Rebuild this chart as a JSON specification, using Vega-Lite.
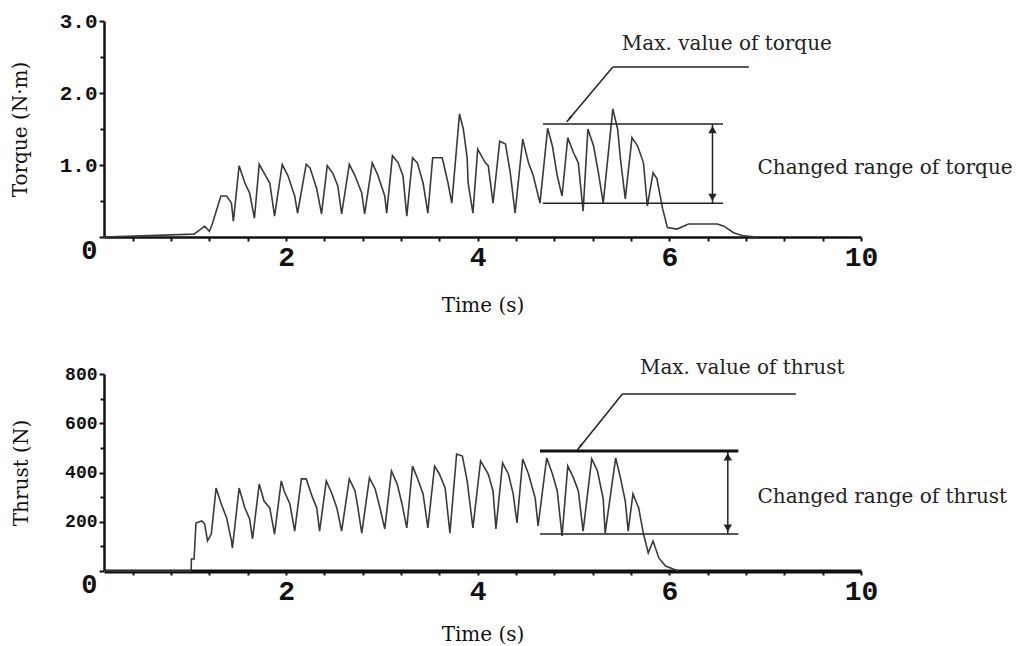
{
  "$schema": "https://vega.github.io/schema/vega-lite/v6.json",
  "background": "white",
  "padding": {"left": 10, "top": 10, "right": 4, "bottom": 5},
  "spacing": 137,
  "bounds": "flush",
  "config": {
    "view": {"stroke": null},
    "axis": {
      "grid": false,
      "domainColor": "#111",
      "tickColor": "#111",
      "labelColor": "#111",
      "titleColor": "#111",
      "titleFont": "DejaVu Serif",
      "titleFontWeight": "normal",
      "titleFontSize": 20,
      "labelFont": "Liberation Mono",
      "labelFontWeight": "bold",
      "labelOverlap": false,
      "labelFlush": false
    }
  },
  "datasets": {
    "torque": [
      {"t":0.1,"v":0},{"t":1.04,"v":0.04},{"t":1.15,"v":0.15},{"t":1.2,"v":0.08},{"t":1.23,"v":0.18},{"t":1.32,"v":0.57},{"t":1.38,"v":0.57},{"t":1.43,"v":0.47},{"t":1.45,"v":0.22},
      {"t":1.51,"v":0.99},{"t":1.57,"v":0.75},{"t":1.62,"v":0.61},{"t":1.67,"v":0.26},
      {"t":1.72,"v":1.01},{"t":1.77,"v":0.89},{"t":1.83,"v":0.75},{"t":1.88,"v":0.29},
      {"t":1.96,"v":1.01},{"t":2.02,"v":0.85},{"t":2.09,"v":0.57},{"t":2.12,"v":0.33},
      {"t":2.21,"v":1.01},{"t":2.25,"v":0.96},{"t":2.32,"v":0.67},{"t":2.37,"v":0.32},
      {"t":2.43,"v":0.99},{"t":2.49,"v":0.88},{"t":2.54,"v":0.71},{"t":2.58,"v":0.32},
      {"t":2.66,"v":1.01},{"t":2.72,"v":0.85},{"t":2.79,"v":0.61},{"t":2.82,"v":0.32},
      {"t":2.9,"v":1.03},{"t":2.96,"v":0.85},{"t":3.03,"v":0.57},{"t":3.05,"v":0.33},
      {"t":3.11,"v":1.13},{"t":3.17,"v":1.03},{"t":3.22,"v":0.85},{"t":3.26,"v":0.29},
      {"t":3.32,"v":1.1},{"t":3.37,"v":1.03},{"t":3.43,"v":0.75},{"t":3.48,"v":0.33},
      {"t":3.53,"v":1.1},{"t":3.63,"v":1.1},{"t":3.69,"v":0.75},{"t":3.73,"v":0.47},
      {"t":3.81,"v":1.71},{"t":3.85,"v":1.5},{"t":3.89,"v":1.1},{"t":3.9,"v":0.75},{"t":3.95,"v":0.33},
      {"t":4.0,"v":1.22},{"t":4.08,"v":1.03},{"t":4.11,"v":0.99},{"t":4.16,"v":0.47},
      {"t":4.23,"v":1.33},{"t":4.29,"v":1.29},{"t":4.34,"v":0.89},{"t":4.39,"v":0.33},
      {"t":4.47,"v":1.36},{"t":4.53,"v":1.03},{"t":4.58,"v":0.85},{"t":4.65,"v":0.47},
      {"t":4.73,"v":1.51},{"t":4.78,"v":1.26},{"t":4.83,"v":0.85},{"t":4.88,"v":0.57},
      {"t":4.94,"v":1.38},{"t":5.0,"v":1.17},{"t":5.05,"v":1.03},{"t":5.1,"v":0.36},
      {"t":5.15,"v":1.5},{"t":5.21,"v":1.26},{"t":5.26,"v":0.89},{"t":5.31,"v":0.47},
      {"t":5.41,"v":1.78},{"t":5.46,"v":1.5},{"t":5.49,"v":1.08},{"t":5.54,"v":0.53},
      {"t":5.61,"v":1.38},{"t":5.67,"v":1.26},{"t":5.73,"v":1.03},{"t":5.77,"v":0.43},
      {"t":5.83,"v":0.89},{"t":5.87,"v":0.81},{"t":5.93,"v":0.39},{"t":5.98,"v":0.13},
      {"t":6.08,"v":0.11},{"t":6.2,"v":0.18},{"t":6.36,"v":0.18},{"t":6.5,"v":0.18},{"t":6.57,"v":0.15},{"t":6.67,"v":0.06},{"t":6.76,"v":0.02},{"t":6.9,"v":0}
    ],
    "thrust": [
      {"t":0.1,"v":0},{"t":1.0,"v":0},{"t":1.01,"v":8},{"t":1.012,"v":49},{"t":1.04,"v":49},{"t":1.06,"v":195},{"t":1.12,"v":203},{"t":1.15,"v":191},{"t":1.18,"v":122},{"t":1.22,"v":150},
      {"t":1.27,"v":337},{"t":1.32,"v":276},{"t":1.38,"v":215},{"t":1.43,"v":122},{"t":1.44,"v":93},
      {"t":1.51,"v":337},{"t":1.57,"v":256},{"t":1.62,"v":211},{"t":1.65,"v":130},
      {"t":1.72,"v":353},{"t":1.77,"v":284},{"t":1.83,"v":256},{"t":1.88,"v":150},
      {"t":1.95,"v":366},{"t":1.98,"v":325},{"t":2.04,"v":272},{"t":2.09,"v":162},
      {"t":2.16,"v":374},{"t":2.21,"v":374},{"t":2.27,"v":305},{"t":2.32,"v":256},{"t":2.35,"v":162},
      {"t":2.42,"v":366},{"t":2.48,"v":313},{"t":2.53,"v":256},{"t":2.58,"v":162},
      {"t":2.66,"v":374},{"t":2.72,"v":325},{"t":2.75,"v":256},{"t":2.79,"v":154},
      {"t":2.87,"v":378},{"t":2.93,"v":333},{"t":2.98,"v":256},{"t":3.03,"v":171},
      {"t":3.1,"v":406},{"t":3.16,"v":353},{"t":3.21,"v":272},{"t":3.26,"v":175},
      {"t":3.32,"v":426},{"t":3.37,"v":378},{"t":3.43,"v":313},{"t":3.48,"v":175},
      {"t":3.55,"v":426},{"t":3.6,"v":394},{"t":3.66,"v":337},{"t":3.71,"v":154},
      {"t":3.78,"v":475},{"t":3.84,"v":467},{"t":3.89,"v":366},{"t":3.95,"v":175},
      {"t":4.03,"v":447},{"t":4.11,"v":394},{"t":4.16,"v":325},{"t":4.19,"v":171},
      {"t":4.26,"v":439},{"t":4.32,"v":394},{"t":4.37,"v":313},{"t":4.41,"v":195},
      {"t":4.47,"v":455},{"t":4.53,"v":394},{"t":4.6,"v":296},{"t":4.63,"v":183},
      {"t":4.72,"v":459},{"t":4.78,"v":394},{"t":4.83,"v":325},{"t":4.88,"v":142},
      {"t":4.94,"v":426},{"t":5.0,"v":378},{"t":5.05,"v":325},{"t":5.1,"v":162},
      {"t":5.19,"v":455},{"t":5.25,"v":406},{"t":5.31,"v":292},{"t":5.33,"v":154},
      {"t":5.44,"v":459},{"t":5.49,"v":378},{"t":5.54,"v":284},{"t":5.57,"v":162},
      {"t":5.62,"v":313},{"t":5.68,"v":256},{"t":5.73,"v":150},{"t":5.78,"v":73},
      {"t":5.83,"v":122},{"t":5.89,"v":53},{"t":5.96,"v":20},{"t":6.04,"v":8},{"t":6.1,"v":0}
    ],
    "torqueRules": [
      {"kind":"max","t":4.68,"t2":6.56,"v":1.57,"v2":1.57},
      {"kind":"min","t":4.68,"t2":6.56,"v":0.47,"v2":0.47},
      {"kind":"range","t":6.45,"t2":6.45,"v":1.57,"v2":0.47},
      {"kind":"leader","t":6.83,"t2":5.41,"v":2.36,"v2":2.36},
      {"kind":"leader","t":5.41,"t2":4.93,"v":2.36,"v2":1.6}
    ],
    "torqueHeads": [
      {"kind":"up","t":6.45,"v":1.49},
      {"kind":"down","t":6.45,"v":0.55}
    ],
    "torqueTip": [{"t":4.96,"v":1.65}],
    "torqueText": [
      {"kind":"max","t":6.6,"v":2.68,"label":"Max. value of torque"},
      {"kind":"range","t":6.92,"v":0.96,"label":"Changed range of torque"}
    ],
    "thrustRules": [
      {"kind":"max","t":4.65,"t2":6.72,"v":487,"v2":487},
      {"kind":"min","t":4.65,"t2":6.72,"v":150,"v2":150},
      {"kind":"range","t":6.61,"t2":6.61,"v":487,"v2":150},
      {"kind":"leader","t":7.32,"t2":5.51,"v":719,"v2":719},
      {"kind":"leader","t":5.51,"t2":5.04,"v":719,"v2":491}
    ],
    "thrustHeads": [
      {"kind":"up","t":6.61,"v":463},
      {"kind":"down","t":6.61,"v":174}
    ],
    "thrustTip": [{"t":5.07,"v":507}],
    "thrustText": [
      {"kind":"max","t":6.76,"v":824,"label":"Max. value of thrust"},
      {"kind":"range","t":6.92,"v":300,"label":"Changed range of thrust"}
    ]
  },
  "vconcat": [
    {
      "width": 757,
      "height": 216,
      "resolve": {"axis": {"x": "independent", "y": "independent"}},
      "layer": [
        {
          "data": {"name": "torque"},
          "mark": {"type": "line", "color": "#3a3a3a", "strokeWidth": 1.6},
          "encoding": {
            "x": {
              "field": "t", "type": "quantitative",
              "scale": {"domain": [0.1, 8], "nice": false, "zero": false},
              "axis": {
                "orient": "bottom",
                "title": "Time (s)",
                "values": [2, 4, 6, 8],
                "labelExpr": "datum.value == 8 ? '10' : datum.label",
                "labelFontSize": 28, "tickSize": 4, "tickWidth": 2, "labelPadding": 2,
                "domainWidth": 2.5, "titlePadding": 24
              }
            },
            "y": {
              "field": "v", "type": "quantitative",
              "scale": {"domain": [0, 3], "nice": false},
              "axis": {
                "orient": "left",
                "title": "Torque (N·m)",
                "values": [0, 1, 2, 3],
                "labelExpr": "datum.value == 0 ? '0' : format(datum.value, '.1f')",
                "labelFontSize": {"condition": {"test": "datum.value == 0", "value": 27}, "value": 21},
                "labelBaseline": {"condition": {"test": "datum.value == 0", "value": "top"}, "value": "middle"},
                "tickSize": 5, "tickWidth": 2, "labelPadding": 2, "domainWidth": 2.5, "titlePadding": 29
              }
            }
          }
        },
        {
          "data": {"name": "torqueRules"},
          "mark": {"type": "rule", "color": "#222", "strokeWidth": 1.5},
          "encoding": {
            "x": {"field": "t", "type": "quantitative",
              "axis": {"orient": "bottom", "title": null, "labels": false, "domain": false, "values": [0.4,0.8,1.2,1.6,2.4,2.8,3.2,3.6,4.4,4.8,5.2,5.6,6.4,6.8,7.2,7.6], "tickSize": 4, "tickWidth": 2}},
            "x2": {"field": "t2"},
            "y": {"field": "v", "type": "quantitative",
              "axis": {"orient": "left", "title": null, "labels": false, "domain": false, "values": [0.5, 1.5, 2.5], "tickSize": 4, "tickWidth": 2}},
            "y2": {"field": "v2"}
          }
        },
        {
          "data": {"name": "torqueHeads"},
          "mark": {"type": "point", "filled": true, "color": "#222", "size": 70, "opacity": 1},
          "encoding": {
            "x": {"field": "t", "type": "quantitative", "axis": null},
            "y": {"field": "v", "type": "quantitative", "axis": null},
            "shape": {"field": "kind", "type": "nominal", "scale": {"domain": ["up", "down"], "range": ["triangle-up", "triangle-down"]}, "legend": null}
          }
        },
        {
          "data": {"name": "torqueTip"},
          "mark": {"type": "point", "filled": true, "color": "#222", "size": 80, "shape": "wedge", "angle": 220, "opacity": 1},
          "encoding": {
            "x": {"field": "t", "type": "quantitative", "axis": null},
            "y": {"field": "v", "type": "quantitative", "axis": null}
          }
        },
        {
          "data": {"name": "torqueText"},
          "transform": [{"filter": "datum.kind == 'max'"}],
          "mark": {"type": "text", "font": "DejaVu Serif", "fontSize": 20, "color": "#222", "align": "center", "baseline": "middle"},
          "encoding": {
            "x": {"field": "t", "type": "quantitative", "axis": null},
            "y": {"field": "v", "type": "quantitative", "axis": null},
            "text": {"field": "label"}
          }
        },
        {
          "data": {"name": "torqueText"},
          "transform": [{"filter": "datum.kind == 'range'"}],
          "mark": {"type": "text", "font": "DejaVu Serif", "fontSize": 20, "color": "#222", "align": "left", "baseline": "middle"},
          "encoding": {
            "x": {"field": "t", "type": "quantitative", "axis": null},
            "y": {"field": "v", "type": "quantitative", "axis": null},
            "text": {"field": "label"}
          }
        }
      ]
    },
    {
      "width": 757,
      "height": 197,
      "resolve": {"axis": {"x": "independent", "y": "independent"}},
      "layer": [
        {
          "data": {"name": "thrust"},
          "mark": {"type": "line", "color": "#3a3a3a", "strokeWidth": 1.6},
          "encoding": {
            "x": {
              "field": "t", "type": "quantitative",
              "scale": {"domain": [0.1, 8], "nice": false, "zero": false},
              "axis": {
                "orient": "bottom",
                "title": "Time (s)",
                "values": [2, 4, 6, 8],
                "labelExpr": "datum.value == 8 ? '10' : datum.label",
                "labelFontSize": 28, "tickSize": 4, "tickWidth": 2, "labelPadding": 2,
                "domainWidth": 4, "titlePadding": 19
              }
            },
            "y": {
              "field": "v", "type": "quantitative",
              "scale": {"domain": [0, 800], "nice": false},
              "axis": {
                "orient": "left",
                "title": "Thrust (N)",
                "values": [0, 200, 400, 600, 800],
                "labelFontSize": {"condition": {"test": "datum.value == 0", "value": 27}, "value": 18},
                "labelBaseline": {"condition": {"test": "datum.value == 0", "value": "top"}, "value": "middle"},
                "tickSize": 5, "tickWidth": 2, "labelPadding": 2, "domainWidth": 2.5, "titlePadding": 33
              }
            }
          }
        },
        {
          "data": {"name": "thrustRules"},
          "transform": [{"filter": "datum.kind != 'max'"}],
          "mark": {"type": "rule", "color": "#222", "strokeWidth": 1.5},
          "encoding": {
            "x": {"field": "t", "type": "quantitative",
              "axis": {"orient": "bottom", "title": null, "labels": false, "domain": false, "values": [0.4,0.8,1.2,1.6,2.4,2.8,3.2,3.6,4.4,4.8,5.2,5.6,6.4,6.8,7.2,7.6], "tickSize": 4, "tickWidth": 2}},
            "x2": {"field": "t2"},
            "y": {"field": "v", "type": "quantitative",
              "axis": {"orient": "left", "title": null, "labels": false, "domain": false, "values": [100, 300, 500, 700], "tickSize": 4, "tickWidth": 2}},
            "y2": {"field": "v2"}
          }
        },
        {
          "data": {"name": "thrustRules"},
          "transform": [{"filter": "datum.kind == 'max'"}],
          "mark": {"type": "rule", "color": "#111", "strokeWidth": 3},
          "encoding": {
            "x": {"field": "t", "type": "quantitative", "axis": null},
            "x2": {"field": "t2"},
            "y": {"field": "v", "type": "quantitative", "axis": null},
            "y2": {"field": "v2"}
          }
        },
        {
          "data": {"name": "thrustHeads"},
          "mark": {"type": "point", "filled": true, "color": "#222", "size": 70, "opacity": 1},
          "encoding": {
            "x": {"field": "t", "type": "quantitative", "axis": null},
            "y": {"field": "v", "type": "quantitative", "axis": null},
            "shape": {"field": "kind", "type": "nominal", "scale": {"domain": ["up", "down"], "range": ["triangle-up", "triangle-down"]}, "legend": null}
          }
        },
        {
          "data": {"name": "thrustTip"},
          "mark": {"type": "point", "filled": true, "color": "#222", "size": 80, "shape": "wedge", "angle": 219, "opacity": 1},
          "encoding": {
            "x": {"field": "t", "type": "quantitative", "axis": null},
            "y": {"field": "v", "type": "quantitative", "axis": null}
          }
        },
        {
          "data": {"name": "thrustText"},
          "transform": [{"filter": "datum.kind == 'max'"}],
          "mark": {"type": "text", "font": "DejaVu Serif", "fontSize": 20, "color": "#222", "align": "center", "baseline": "middle"},
          "encoding": {
            "x": {"field": "t", "type": "quantitative", "axis": null},
            "y": {"field": "v", "type": "quantitative", "axis": null},
            "text": {"field": "label"}
          }
        },
        {
          "data": {"name": "thrustText"},
          "transform": [{"filter": "datum.kind == 'range'"}],
          "mark": {"type": "text", "font": "DejaVu Serif", "fontSize": 20, "color": "#222", "align": "left", "baseline": "middle"},
          "encoding": {
            "x": {"field": "t", "type": "quantitative", "axis": null},
            "y": {"field": "v", "type": "quantitative", "axis": null},
            "text": {"field": "label"}
          }
        }
      ]
    }
  ]
}
